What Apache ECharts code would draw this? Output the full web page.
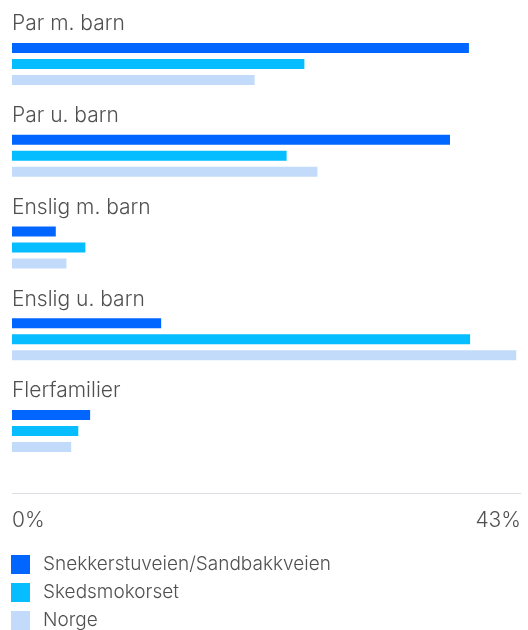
<!DOCTYPE html>
<html>
<head>
<meta charset="utf-8">
<script src="https://cdn.jsdelivr.net/npm/echarts@6/dist/echarts.min.js"></script>
<style>
  html, body { margin: 0; padding: 0; background: #ffffff; }
  #chart { width: 528px; height: 630px; }
</style>
</head>
<body>
<div id="chart"></div>
<script>
// Household types, share of households (%)
const categories = ['Par m. barn', 'Par u. barn', 'Enslig m. barn', 'Enslig u. barn', 'Flerfamilier'];
const seriesNames = ['Snekkerstuveien/Sandbakkveien', 'Skedsmokorset', 'Norge'];
const snekkerstuveien = [38.6, 37.0, 3.7, 12.6, 6.6];
const skedsmokorset = [24.7, 23.2, 6.2, 38.7, 5.6];
const norge = [20.5, 25.8, 4.6, 42.6, 5.0];
const axisMin = 0;
const axisMax = 43;

const colors = ['#0066ff', '#05bdff', '#c3dbfb'];
const textColor = '#505050';
const font = 'Inter';

const chart = echarts.init(document.getElementById('chart'), null, { renderer: 'canvas' });

const values = [snekkerstuveien, skedsmokorset, norge];

chart.setOption({
  animation: false,
  color: colors,
  grid: { left: 12, right: 7, top: 18, bottom: 153, containLabel: false },
  xAxis: {
    type: 'value',
    min: axisMin,
    max: axisMax,
    interval: axisMax - axisMin,
    offset: 16,
    axisLine: { show: true, lineStyle: { color: '#dde1e6', width: 1 } },
    axisTick: { show: false },
    splitLine: { show: false },
    axisLabel: {
      formatter: '{value}%',
      color: textColor,
      fontFamily: font,
      fontWeight: 300,
      fontSize: 21,
      margin: 17,
      alignMinLabel: 'left',
      alignMaxLabel: 'right'
    }
  },
  yAxis: {
    type: 'category',
    inverse: true,
    data: categories,
    axisLine: { show: false },
    axisTick: { show: false },
    axisLabel: {
      inside: true,
      margin: 0,
      interval: 0,
      showMinLabel: true,
      showMaxLabel: true,
      hideOverlap: false,
      align: 'left',
      verticalAlign: 'middle',
      // category title sits above its group of bars
      formatter: '{t|{value}}\n{s| }',
      rich: {
        t: {
          color: textColor,
          fontFamily: font,
          fontWeight: 300,
          fontSize: 21,
          lineHeight: 24
        },
        s: { fontSize: 10, lineHeight: 80, height: 80 }
      }
    }
  },
  legend: {
    orient: 'vertical',
    left: 6,
    top: 550,
    height: 150,
    itemWidth: 19,
    itemHeight: 19,
    itemGap: 9,
    icon: 'rect',
    data: seriesNames,
    textStyle: {
      color: textColor,
      fontFamily: font,
      fontWeight: 300,
      fontSize: 19,
      lineHeight: 19,
      padding: [0, 0, 0, 8]
    }
  },
  series: values.map((v, i) => ({
    name: seriesNames[i],
    type: 'bar',
    data: v,
    barWidth: 10,
    barGap: '60%',
    itemStyle: { color: colors[i] }
  }))
});
</script>
</body>
</html>
